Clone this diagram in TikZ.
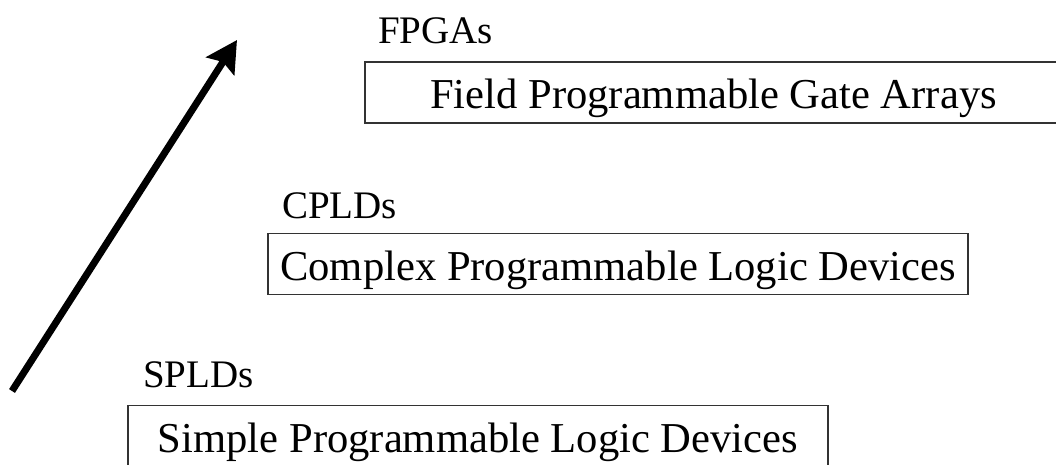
\documentclass[tikz,border=0pt]{standalone}
\usepackage{fontspec}
\setmainfont{Liberation Serif}
\usetikzlibrary{arrows.meta}
\begin{document}
\begin{tikzpicture}[x=1pt,y=-1pt,
  lbl/.style={anchor=base west,inner sep=0pt,font=\fontsize{39}{46}\selectfont},
  devbox/.style={draw=black!80,line width=1.2pt,rectangle,inner sep=0pt,
    minimum height=61pt,text height=32pt,text depth=0pt,
    font=\fontsize{42.6}{50}\selectfont},
  bigarrow/.style={line width=7pt,-{Stealth[length=31pt,width=33pt,inset=5pt]}}]
\useasboundingbox[fill=white] (0,0) rectangle (1056,464);
% boxes
\node[devbox,minimum width=697pt] (fpga) at (713.5,92.5) {Field Programmable Gate Arrays};
\node[devbox,minimum width=700pt] (cpld) at (618,264) {Complex Programmable Logic Devices};
\node[devbox,minimum width=700pt] (spld) at (478,436) {Simple Programmable Logic Devices};
% labels
\node[lbl] (fpgal) at (378,43) {FPGAs};
\node[lbl] (cpldl) at (282,218) {CPLDs};
\node[lbl] (spldl) at (143,387) {SPLDs};
% arrow
\coordinate (tail) at (12,391);
\coordinate (tip) at (237,40);
\draw[bigarrow] (tail) -- (tip);
\end{tikzpicture}
\end{document}
